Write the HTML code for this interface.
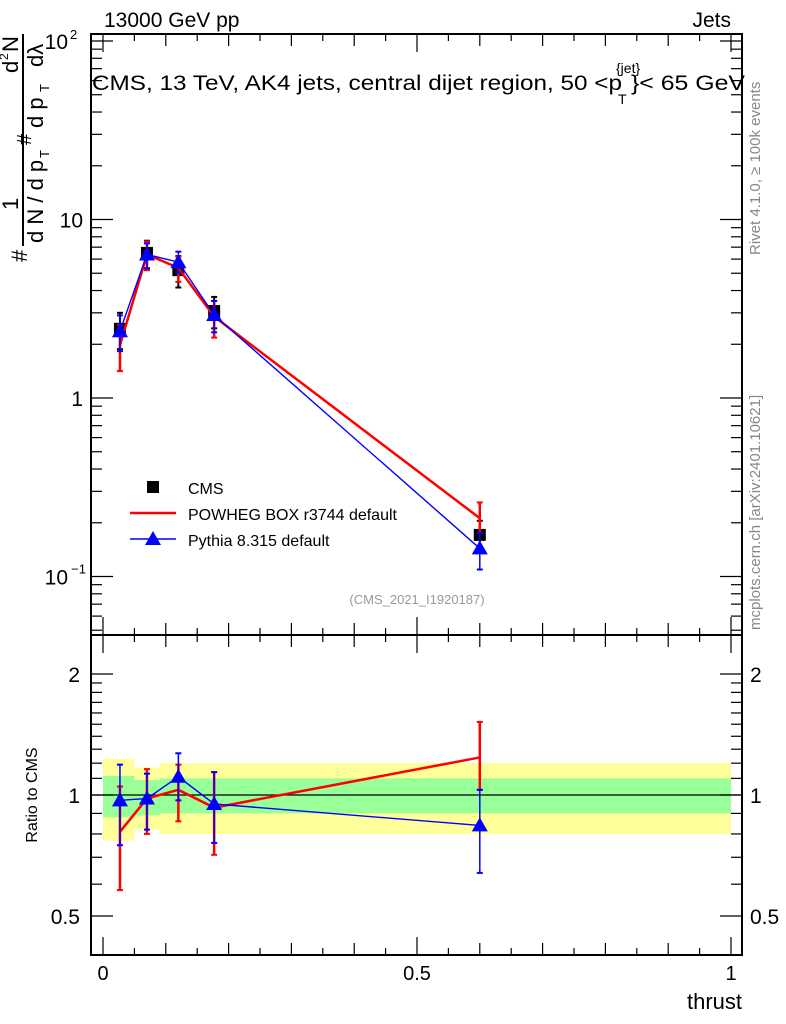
<!DOCTYPE html>
<html><head><meta charset="utf-8"><style>
html,body{margin:0;padding:0;background:#fff;}
svg{display:block;font-family:"Liberation Sans",sans-serif;}
</style></head><body>
<svg id="c" width="786" height="1024" viewBox="0 0 786 1024"></svg>
<script>
const binLo=[0,0.05,0.09,0.15,0.2];
const binHi=[0.05,0.09,0.15,0.2,1.0];
const xPts=[0.027,0.07,0.12,0.177,0.6];
const cmsVals=[2.44,6.5,5.2,3.07,0.171];
const cmsStatUp=[1.115,1.09,1.10,1.10,1.10];
const cmsStatDn=[0.88,0.89,0.90,0.90,0.90];
const cmsTotUp=[1.23,1.17,1.20,1.20,1.20];
const cmsTotDn=[0.77,0.82,0.80,0.80,0.80];
const powRatio=[0.81,0.98,1.03,0.93,1.24];
const powUp=[1.05,1.16,1.19,1.14,1.52];
const powDn=[0.58,0.80,0.86,0.71,1.03];
const pyRatio=[0.97,0.98,1.11,0.95,0.84];
const pyUp=[1.19,1.13,1.27,1.14,1.03];
const pyDn=[0.75,0.82,0.97,0.76,0.64];
const xTickLabels=["0","0.5","1"];
const xTickVals=[0,0.5,1];

const NS="http://www.w3.org/2000/svg";
const svg=document.getElementById('c');
function el(tag,attrs,parent,text){const e=document.createElementNS(NS,tag);for(const k in attrs)e.setAttribute(k,attrs[k]);if(text!==undefined)e.textContent=text;(parent||svg).appendChild(e);return e;}
const L=91,R=742,T=34,MID=635,B=955;
const X=v=>103+628*v;
const Y=v=>398-178.5*Math.log10(v);
const YR=v=>795-121*Math.log2(v);

// ratio bands
const gB=el('g',{});
for(let i=0;i<binLo.length;i++){
  const r1=el('rect',{x:X(binLo[i]),y:YR(cmsTotUp[i]),width:X(binHi[i])-X(binLo[i]),height:YR(cmsTotDn[i])-YR(cmsTotUp[i]),fill:'#ffff99'},gB);
  
  const r2=el('rect',{x:X(binLo[i]),y:YR(cmsStatUp[i]),width:X(binHi[i])-X(binLo[i]),height:YR(cmsStatDn[i])-YR(cmsStatUp[i]),fill:'#99ff99'},gB);
  
}
el('line',{x1:L,x2:R,y1:YR(1),y2:YR(1),stroke:'#000','stroke-width':1.2});

// frames
const fr=el('rect',{x:L,y:T,width:R-L,height:B-T,fill:'none',stroke:'#000','stroke-width':2});

el('line',{x1:L,x2:R,y1:MID,y2:MID,stroke:'#000','stroke-width':2});

// x ticks
for(let k=0;k<=20;k++){const v=k*0.05;const x=X(v);const maj=k%2===0;const len=maj?(k%10===0?18:12):7;
 [T,MID].forEach(y0=>el('line',{x1:x,x2:x,y1:y0,y2:y0+len,stroke:'#000','stroke-width':1.2}));
 [MID,B].forEach(y0=>el('line',{x1:x,x2:x,y1:y0,y2:y0-len,stroke:'#000','stroke-width':1.2}));}
xTickVals.forEach((v,i)=>{const t=el('text',{x:X(v),y:980,'font-size':20,'text-anchor':'middle'},svg,xTickLabels[i]);});
const xt=el('text',{x:742,y:1009,'font-size':22,'text-anchor':'end'},svg,'thrust');

// main y ticks (log)
for(let d=-2;d<=2;d++){for(let m=1;m<=9;m++){const v=m*Math.pow(10,d);const y=Y(v);if(y<T||y>MID)continue;const len=m===1?22:11;
 el('line',{x1:L,x2:L+len,y1:y,y2:y,stroke:'#000','stroke-width':1.2});el('line',{x1:R,x2:R-len,y1:y,y2:y,stroke:'#000','stroke-width':1.2});}}
const yl=[['10',Y(10)],['1',Y(1)]];
yl.forEach(a=>{const t=el('text',{x:83,y:a[1]+8,'font-size':21,'text-anchor':'end'},svg,a[0]);});
let t=el('text',{x:68,y:Y(100)+8,'font-size':21,'text-anchor':'end'},svg,'10');
el('text',{x:70,y:Y(100)-2,'font-size':13},svg,'2');
t=el('text',{x:68,y:Y(0.1)+8,'font-size':21,'text-anchor':'end'},svg,'10');
el('text',{x:86,y:Y(0.1)-3,'font-size':13,'text-anchor':'end'},svg,'−1');

// ratio ticks
[0.4,0.5,0.6,0.7,0.8,0.9,1,1.1,1.2,1.3,1.4,1.5,1.6,1.7,1.8,1.9,2,2.5].forEach(v=>{const y=YR(v);if(y<MID||y>B)return;const maj=(v===0.5||v===1||v===2);const len=maj?22:11;
 el('line',{x1:L,x2:L+len,y1:y,y2:y,stroke:'#000','stroke-width':1.2});el('line',{x1:R,x2:R-len,y1:y,y2:y,stroke:'#000','stroke-width':1.2});});
[['2',2],['1',1],['0.5',0.5]].forEach(a=>{const t1=el('text',{x:80,y:YR(a[1])+8,'font-size':21,'text-anchor':'end'},svg,a[0]);
 const t2=el('text',{x:750,y:YR(a[1])+8,'font-size':21},svg,a[0]);});
t=el('text',{x:0,y:0,'font-size':16,transform:'translate(37,795) rotate(-90)','text-anchor':'middle'},svg,'Ratio to CMS');

// y axis title (main)
const yt=el('g',{transform:'translate(0,270) rotate(-90)'});
el('text',{x:8,y:27,'font-size':22},yt,'#');
el('line',{x1:24,x2:236,y1:23,y2:23,stroke:'#000','stroke-width':2},yt);
el('text',{x:60,y:18,'font-size':22},yt,'1');
el('text',{x:125,y:31,'font-size':20},yt,'#');
el('text',{x:197,y:18,'font-size':22},yt,'d');el('text',{x:210,y:8,'font-size':12},yt,'2');el('text',{x:218,y:18,'font-size':22},yt,'N');
el('text',{x:27,y:43,'font-size':22},yt,'d N / d p');el('text',{x:112,y:49,'font-size':13},yt,'T');
el('text',{x:142,y:43,'font-size':22},yt,'d p');el('text',{x:178,y:49,'font-size':13},yt,'T');
el('text',{x:203,y:43,'font-size':22},yt,'dλ');

// texts
t=el('text',{x:104,y:27,'font-size':21},svg,'13000 GeV pp');
t=el('text',{x:731,y:27,'font-size':21,'text-anchor':'end'},svg,'Jets');
t=el('text',{x:92,y:90,'font-size':21,textLength:530,lengthAdjust:'spacingAndGlyphs'},svg,'CMS, 13 TeV, AK4 jets, central dijet region, 50 <p');
el('text',{x:616,y:73,'font-size':14},svg,'{jet}');el('text',{x:618,y:104,'font-size':14},svg,'T');
el('text',{x:631,y:90,'font-size':21,textLength:114,lengthAdjust:'spacingAndGlyphs'},svg,'}< 65 GeV');
t=el('text',{x:0,y:0,'font-size':15,fill:'#888',transform:'translate(760,255) rotate(-90)'},svg,'Rivet 4.1.0, ≥ 100k events');
t=el('text',{x:0,y:0,'font-size':15,fill:'#888',transform:'translate(760,630) rotate(-90)'},svg,'mcplots.cern.ch [arXiv:2401.10621]');
t=el('text',{x:417,y:604,'font-size':13,fill:'#999','text-anchor':'middle'},svg,'(CMS_2021_I1920187)');

function errbar(g,x,y1,y2,col,w){el('line',{x1:x,x2:x,y1:y1,y2:y2,stroke:col,'stroke-width':w},g);el('line',{x1:x-3,x2:x+3,y1:y1,y2:y1,stroke:col,'stroke-width':2},g);el('line',{x1:x-3,x2:x+3,y1:y2,y2:y2,stroke:col,'stroke-width':2},g);}
function tri(g,x,y,col){el('polygon',{points:`${x},${y-8} ${x-8},${y+6} ${x+8},${y+6}`,fill:col},g);}

// CMS main
const gC=el('g',{});
cmsVals.forEach((v,i)=>{const x=X(xPts[i]);errbar(gC,x,Y(v*cmsTotUp[i]),Y(v*cmsTotDn[i]),'#000',2);const r=el('rect',{x:x-6,y:Y(v)-6,width:12,height:12,fill:'#000'},gC);});

// Powheg main + ratio
const gP=el('g',{});
el('polyline',{points:xPts.map((x,i)=>X(x)+','+Y(cmsVals[i]*powRatio[i])).join(' '),fill:'none',stroke:'#f00','stroke-width':2.5},gP);
xPts.forEach((x,i)=>errbar(gP,X(x),Y(cmsVals[i]*powUp[i]),Y(cmsVals[i]*powDn[i]),'#f00',2.5));
const gPR=el('g',{});
el('polyline',{points:xPts.map((x,i)=>X(x)+','+YR(powRatio[i])).join(' '),fill:'none',stroke:'#f00','stroke-width':2.5},gPR);
xPts.forEach((x,i)=>errbar(gPR,X(x),YR(powUp[i]),YR(powDn[i]),'#f00',2.5));

// Pythia
const gY=el('g',{});
el('polyline',{points:xPts.map((x,i)=>X(x)+','+Y(cmsVals[i]*pyRatio[i])).join(' '),fill:'none',stroke:'#00f','stroke-width':1.4},gY);
xPts.forEach((x,i)=>{errbar(gY,X(x),Y(cmsVals[i]*pyUp[i]),Y(cmsVals[i]*pyDn[i]),'#00f',1.5);tri(gY,X(x),Y(cmsVals[i]*pyRatio[i]),'#00f');});
const gYR=el('g',{});
el('polyline',{points:xPts.map((x,i)=>X(x)+','+YR(pyRatio[i])).join(' '),fill:'none',stroke:'#00f','stroke-width':1.4},gYR);
xPts.forEach((x,i)=>{errbar(gYR,X(x),YR(pyUp[i]),YR(pyDn[i]),'#00f',1.5);tri(gYR,X(x),YR(pyRatio[i]),'#00f');});

// legend
const lg=el('g',{});
el('rect',{x:147,y:481,width:12,height:12,fill:'#000'},lg);
el('text',{x:188,y:494,'font-size':16},lg,'CMS');
el('line',{x1:130,x2:176,y1:513,y2:513,stroke:'#f00','stroke-width':2.5},lg);
el('text',{x:188,y:520,'font-size':16},lg,'POWHEG BOX r3744 default');
el('line',{x1:130,x2:176,y1:539,y2:539,stroke:'#00f','stroke-width':1.4},lg);
tri(lg,153,539,'#00f');
el('text',{x:188,y:546,'font-size':16},lg,'Pythia 8.315 default');
</script>
</body></html>
